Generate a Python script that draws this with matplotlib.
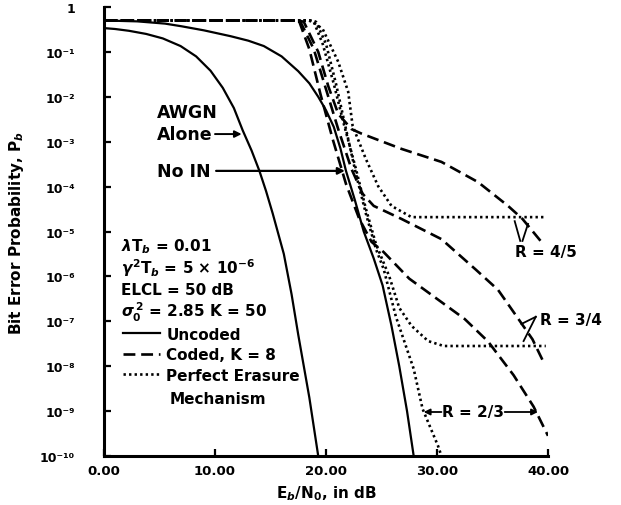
import numpy as np
import matplotlib
matplotlib.use("Agg")
import matplotlib.pyplot as plt

plt.rcParams['font.family'] = ['DejaVu Sans']
plt.rcParams['font.weight'] = 'bold'
plt.rcParams['mathtext.fontset'] = 'custom'
plt.rcParams['mathtext.rm'] = 'DejaVu Sans:bold'
plt.rcParams['mathtext.it'] = 'DejaVu Sans:italic:bold'
plt.rcParams['mathtext.bf'] = 'DejaVu Sans:bold'

# ---- data: Eb/N0 in dB, log10 of bit error probability ----
awgn_db = [0.0, 1.0, 2.25, 3.8, 5.3, 6.9, 8.3, 9.6, 10.7, 11.7, 12.5, 13.3, 14.0,
           14.6, 15.2, 16.2, 16.9, 17.5, 18.5, 19.3]
awgn_lp = [-0.47, -0.49, -0.53, -0.6, -0.7, -0.87, -1.1, -1.42, -1.8, -2.25, -2.75, -3.2, -3.65,
           -4.1, -4.6, -5.5, -6.4, -7.3, -8.7, -10.0]

unc_db = [0.0, 3.0, 5.5, 7.0, 9.0, 11.4, 13.0, 14.4, 16.0, 17.5, 18.5, 19.3, 20.0, 20.7,
          21.3, 21.8, 22.6, 23.4, 24.3, 25.1, 25.9, 26.6, 27.3, 27.9]
unc_lp = [-0.3, -0.32, -0.37, -0.43, -0.52, -0.65, -0.75, -0.87, -1.1, -1.43, -1.7, -2.0, -2.3, -2.67,
          -3.15, -3.65, -4.3, -5.0, -5.6, -6.2, -7.1, -8.0, -9.0, -10.0]

# coded, K = 8
c45_db = [0.0, 17.5, 18.0, 19.3, 20.2, 21.1, 22.3, 23.2, 26.8, 30.4, 33.7, 36.4, 37.7, 39.5]
c45_lp = [-0.3, -0.3, -0.33, -1.0, -1.76, -2.38, -2.72, -2.82, -3.16, -3.45, -3.9, -4.43, -4.72, -5.26]

c34_db = [0.0, 17.4, 17.7, 18.9, 20.0, 21.1, 22.3, 23.3, 24.3, 26.8, 30.4, 33.5, 35.5, 37.2, 38.6, 39.6]
c34_lp = [-0.3, -0.3, -0.33, -0.94, -1.83, -2.72, -3.61, -4.16, -4.43, -4.72, -5.17, -5.85, -6.3, -6.9, -7.4, -7.91]

c23_db = [0.0, 17.3, 17.6, 18.5, 19.5, 20.6, 21.8, 23.0, 24.1, 25.2, 27.5, 30.0, 32.5, 34.6, 36.9, 38.7, 40.0]
c23_lp = [-0.3, -0.3, -0.33, -0.94, -1.94, -2.94, -3.94, -4.72, -5.23, -5.46, -6.05, -6.5, -6.95, -7.45, -8.2, -8.9, -9.55]

# perfect erasure mechanism
e45_db = [0.0, 18.4, 18.8, 19.7, 21.1, 22.0, 22.4, 23.6, 24.7, 25.9, 27.7, 39.6]
e45_lp = [-0.3, -0.3, -0.33, -0.49, -1.22, -1.89, -2.65, -3.39, -3.99, -4.43, -4.68, -4.68]

e34_db = [0.0, 18.6, 18.9, 19.7, 20.7, 21.6, 22.7, 23.6, 24.5, 25.7, 26.6, 27.7, 29.2, 30.6, 39.8]
e34_lp = [-0.3, -0.3, -0.33, -0.82, -1.71, -2.6, -3.61, -4.5, -5.28, -6.0, -6.7, -7.1, -7.44, -7.55, -7.55]

e23_db = [0.0, 18.8, 19.1, 20.0, 20.9, 21.8, 22.7, 23.6, 24.5, 25.2, 26.3, 27.9, 28.7, 30.1, 30.4]
e23_lp = [-0.3, -0.3, -0.33, -0.82, -1.71, -2.72, -3.72, -4.61, -5.39, -5.84, -6.9, -8.06, -8.95, -9.78, -10.0]

x_ticks = [0, 10, 20, 30, 40]
x_ticklabels = ["0.00", "10.00", "20.00", "30.00", "40.00"]
y_exps = list(range(0, -11, -1))
y_ticklabels = ["1", "10⁻¹", "10⁻²", "10⁻³", "10⁻⁴", "10⁻⁵", "10⁻⁶",
                "10⁻⁷", "10⁻⁸", "10⁻⁹", "10⁻¹⁰"]

params = [r"$\lambda$T$_b$ = 0.01",
          r"$\gamma^2$T$_b$ = 5 $\times$ 10$^{-6}$",
          "ELCL = 50 dB",
          r"$\sigma_0^{\,2}$ = 2.85 K = 50"]

W, H = 621, 506
fig = plt.figure(figsize=(W / 100, H / 100), dpi=100)
ax = fig.add_axes([104 / W, (H - 457) / H, (548 - 104) / W, (457 - 8) / H])

def p(lp):
    return 10.0 ** np.asarray(lp)

lw_s, lw_d = 1.6, 1.9
dash = (0, (4.5, 2.2))
dot = (0, (0.9, 1.2))

ax.plot(awgn_db, p(awgn_lp), color='black', lw=lw_s)
ax.plot(unc_db, p(unc_lp), color='black', lw=lw_s, label='Uncoded')
ax.plot(c45_db, p(c45_lp), color='black', lw=lw_d, ls=dash, label='Coded, K = 8')
ax.plot(c34_db, p(c34_lp), color='black', lw=lw_d, ls=dash)
ax.plot(c23_db, p(c23_lp), color='black', lw=lw_d, ls=dash)
ax.plot(e45_db, p(e45_lp), color='black', lw=lw_d, ls=dot, label='Perfect Erasure')
ax.plot(e34_db, p(e34_lp), color='black', lw=lw_d, ls=dot)
ax.plot(e23_db, p(e23_lp), color='black', lw=lw_d, ls=dot)

ax.set_yscale('log')
ax.set_xlim(0, 40)
ax.set_ylim(1e-10, 1)

ax.set_xticks(x_ticks)
ax.set_xticklabels(x_ticklabels)
ax.set_yticks([10.0 ** e for e in y_exps])
ax.set_yticklabels(y_ticklabels)
ax.yaxis.set_minor_locator(matplotlib.ticker.NullLocator())
ax.tick_params(axis='both', direction='in', length=5, width=1.6, labelsize=9.5)
ax.tick_params(axis='y', pad=21, labelsize=9)
ax.tick_params(axis='x', pad=6)
for lbl in ax.get_xticklabels() + ax.get_yticklabels():
    lbl.set_fontweight('bold')

for s in ['top', 'right']:
    ax.spines[s].set_visible(False)
for s in ['left', 'bottom']:
    ax.spines[s].set_linewidth(2.2)

ax.set_xlabel(r"E$_b$/N$_0$, in dB", fontsize=11, fontweight='bold', labelpad=4)
ax.set_ylabel(r"Bit Error Probability, P$_b$", fontsize=11, fontweight='bold', labelpad=10)

fs = 11
fs_big = 12.5
ax.text(4.8, p(-2.34), "AWGN", fontsize=fs_big, fontweight='bold', va='center', ha='left')
ax.text(4.8, p(-2.83), "Alone", fontsize=fs_big, fontweight='bold', va='center', ha='left')
ax.annotate("", xy=(12.4, p(-2.83)), xytext=(10.0, p(-2.83)),
            arrowprops=dict(arrowstyle='-|>', color='black', lw=1.4, mutation_scale=10,
                            shrinkA=0, shrinkB=0))
ax.text(4.8, p(-3.65), "No IN", fontsize=fs_big, fontweight='bold', va='center', ha='left')
ax.annotate("", xy=(21.7, p(-3.65)), xytext=(10.1, p(-3.65)),
            arrowprops=dict(arrowstyle='-|>', color='black', lw=1.6, mutation_scale=10,
                            shrinkA=0, shrinkB=0))

y0 = -5.32
for i, s in enumerate(params):
    ax.text(1.5, p(y0 - 0.485 * i), s, fontsize=fs, fontweight='bold', va='center', ha='left')

leg = ax.legend(loc='upper left', bbox_to_anchor=(0.03, 0.302), frameon=False,
                handlelength=2.4, handletextpad=0.4, labelspacing=0.36,
                borderaxespad=0, prop={'size': fs, 'weight': 'bold'})
ax.text(5.9, p(-8.73), "Mechanism", fontsize=fs, fontweight='bold', va='center', ha='left')

# rate labels
ax.text(37.0, p(-5.45), "R = 4/5", fontsize=fs, fontweight='bold', va='center', ha='left')
ax.plot([37.0, 37.5], p([-4.77, -5.21]), color='black', lw=1.3)
ax.plot([37.7, 38.2], p([-5.21, -4.83]), color='black', lw=1.3)

ax.text(39.3, p(-6.97), "R = 3/4", fontsize=fs, fontweight='bold', va='center', ha='left')
ax.plot([38.9, 37.6], p([-6.9, -7.06]), color='black', lw=1.3, clip_on=False)
ax.plot([38.9, 37.8], p([-6.9, -7.44]), color='black', lw=1.3, clip_on=False)

ax.text(33.2, p(-9.02), "R = 2/3", fontsize=fs, fontweight='bold', va='center', ha='center')
ax.annotate("", xy=(28.8, p(-9.02)), xytext=(30.4, p(-9.02)),
            arrowprops=dict(arrowstyle='-|>', color='black', lw=1.3, mutation_scale=9,
                            shrinkA=0, shrinkB=0))
ax.annotate("", xy=(39.1, p(-9.02)), xytext=(36.1, p(-9.02)),
            arrowprops=dict(arrowstyle='-|>', color='black', lw=1.3, mutation_scale=9,
                            shrinkA=0, shrinkB=0))

fig.savefig("out.png", dpi=100)
